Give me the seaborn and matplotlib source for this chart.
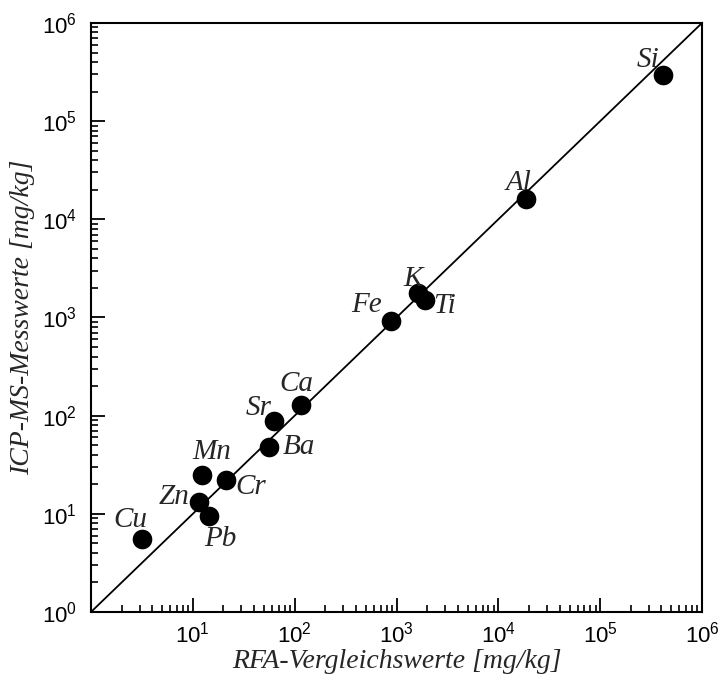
import matplotlib
matplotlib.use("Agg")
import matplotlib.pyplot as plt
from matplotlib.ticker import FixedLocator, LogFormatterSciNotation, NullFormatter, FuncFormatter
import seaborn as sns
import pandas as pd

# Element comparison: XRF (RFA) reference values vs. ICP-MS measurements, mg/kg
elements = ["Cu", "Zn", "Pb", "Mn", "Cr", "Ba", "Sr", "Ca", "Fe", "K", "Ti", "Al", "Si"]
rfa_values = [3.2, 11.5, 14.4, 12.3, 21.2, 56, 63, 116, 885, 1630, 1910, 18750, 416000]
icpms_values = [5.5, 13.2, 9.5, 24.8, 22.1, 48, 88, 128, 920, 1770, 1500, 16100, 294000]

# label offsets (pixels) from each point
label_dx = [-12, -25, 11, 10, 25, 30, -16, -5, -25, -5, 19, -8, -15]
label_dy = [19, 5, -23, 23, -7, 0, 13, 21, 16, 14, -6, 16, 15]

axis_limits = [1, 1e6]
decades = [1, 10, 100, 1e3, 1e4, 1e5, 1e6]

df = pd.DataFrame({"element": elements, "rfa": rfa_values, "icpms": icpms_values})
diag = pd.DataFrame({"x": axis_limits, "y": axis_limits})

sns.set_style("white")
plt.rcParams["font.family"] = ["Liberation Sans", "DejaVu Sans"]
plt.rcParams["mathtext.default"] = "regular"

fig = plt.figure(figsize=(7.2, 6.84), dpi=100)
ax = fig.add_axes([0.1264, 0.1053, 0.975 - 0.1264, 0.9664 - 0.1053])

sns.lineplot(data=diag, x="x", y="y", ax=ax, color="black", linewidth=1.3, zorder=2)
sns.scatterplot(data=df, x="rfa", y="icpms", ax=ax, s=200, color="black",
                edgecolor="black", linewidth=0, zorder=3)

ax.set_xscale("log")
ax.set_yscale("log")
ax.set_xlim(axis_limits)
ax.set_ylim(axis_limits)

for name, x, y, dx, dy in zip(elements, rfa_values, icpms_values, label_dx, label_dy):
    ax.annotate(name, (x, y), xytext=(dx, dy), textcoords="offset pixels",
                ha="center", va="center", fontsize=21, style="italic",
                family="Liberation Serif", zorder=4)

minor_ticks = [d * k for d in decades[:-1] for k in range(2, 10)]
for a in (ax.xaxis, ax.yaxis):
    a.set_major_locator(FixedLocator(decades))
    a.set_minor_locator(FixedLocator(minor_ticks))
    a.set_minor_formatter(NullFormatter())

sci = LogFormatterSciNotation()
ax.xaxis.set_major_formatter(FuncFormatter(lambda v, p: "" if v < 5 else sci(v, p)))
ax.yaxis.set_major_formatter(FuncFormatter(lambda v, p: sci(v, p)))

ax.tick_params(which="both", bottom=True, left=True, top=False, right=False)
ax.tick_params(which="major", direction="in", length=10, width=1.3, labelsize=16,
               colors="black")
ax.tick_params(axis="x", which="major", pad=7)
ax.tick_params(axis="y", which="major", pad=10)
ax.tick_params(which="minor", direction="in", length=5, width=1.2, colors="black")

for sp in ax.spines.values():
    sp.set_visible(True)
    sp.set_color("black")
    sp.set_linewidth(1.5)

ax.set_xlabel("RFA-Vergleichswerte [mg/kg]", fontsize=20, style="italic",
              family="Liberation Serif", labelpad=1)
ax.set_ylabel("ICP-MS-Messwerte [mg/kg]", fontsize=20, style="italic",
              family="Liberation Serif", labelpad=5)

fig.savefig("out.png", dpi=100, facecolor="white")
